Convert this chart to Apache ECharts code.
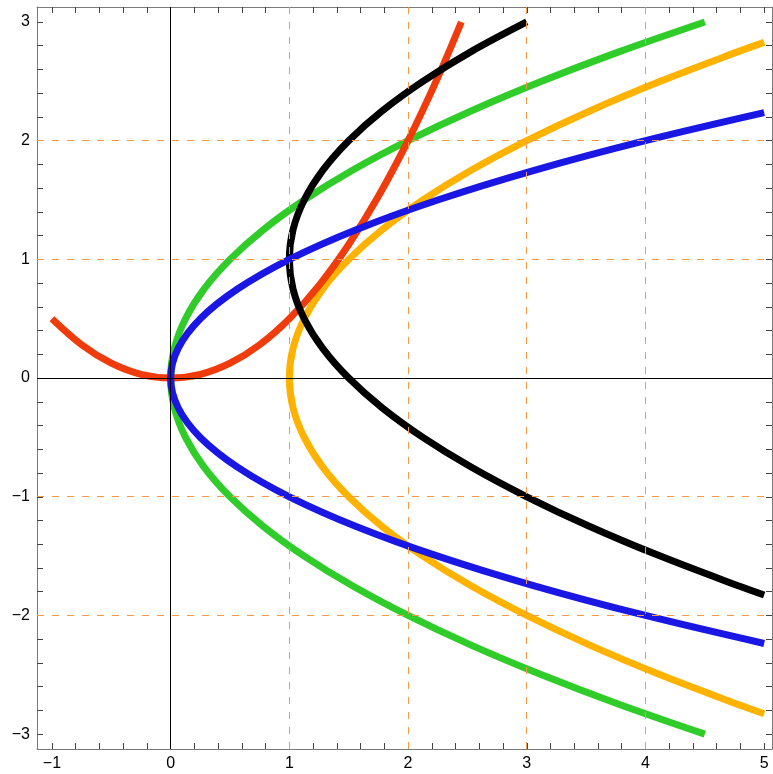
<!DOCTYPE html>
<html>
<head>
<meta charset="utf-8">
<script src="https://cdn.jsdelivr.net/npm/echarts@6/dist/echarts.min.js"></script>
<style>
html,body{margin:0;padding:0;background:#fff;}
#chart{width:773px;height:774px;}
</style>
</head>
<body>
<div id="chart"></div>
<script>
// ---- data ----
// green: sideways parabola through origin
const greenPts = [[4.5,-3],[3.781,-2.75],[3.125,-2.5],[2.531,-2.25],[2,-2],[1.531,-1.75],[1.125,-1.5],[0.781,-1.25],[0.5,-1],[0.281,-0.75],[0.125,-0.5],[0.031,-0.25],[0,0],[0.031,0.25],[0.125,0.5],[0.281,0.75],[0.5,1],[0.781,1.25],[1.125,1.5],[1.531,1.75],[2,2],[2.531,2.25],[3.125,2.5],[3.781,2.75],[4.5,3]];
// blue: narrower sideways parabola through origin
const bluePts = [[5,-2.236],[4,-2],[3.063,-1.75],[2.25,-1.5],[1.563,-1.25],[1,-1],[0.563,-0.75],[0.25,-0.5],[0.063,-0.25],[0,0],[0.063,0.25],[0.25,0.5],[0.563,0.75],[1,1],[1.563,1.25],[2.25,1.5],[3.063,1.75],[4,2],[5,2.236]];
// orange: sideways parabola with vertex (1,0)
const orangePts = [[5,-2.828],[4.781,-2.75],[4.125,-2.5],[3.531,-2.25],[3,-2],[2.531,-1.75],[2.125,-1.5],[1.781,-1.25],[1.5,-1],[1.281,-0.75],[1.125,-0.5],[1.031,-0.25],[1,0],[1.031,0.25],[1.125,0.5],[1.281,0.75],[1.5,1],[1.781,1.25],[2.125,1.5],[2.531,1.75],[3,2],[3.531,2.25],[4.125,2.5],[4.781,2.75],[5,2.828]];
// black: sideways parabola with vertex (1,1)
const blackPts = [[3,3],[2.531,2.75],[2.125,2.5],[1.781,2.25],[1.5,2],[1.281,1.75],[1.125,1.5],[1.031,1.25],[1,1],[1.031,0.75],[1.125,0.5],[1.281,0.25],[1.5,0],[1.781,-0.25],[2.125,-0.5],[2.531,-0.75],[3,-1],[3.531,-1.25],[4.125,-1.5],[4.781,-1.75],[5,-1.828]];
// red: upward parabola through origin
const redPts = [[-1,0.5],[-0.75,0.281],[-0.5,0.125],[-0.25,0.031],[0,0],[0.25,0.031],[0.5,0.125],[0.75,0.281],[1,0.5],[1.25,0.781],[1.5,1.125],[1.75,1.531],[2,2],[2.25,2.531],[2.449,3]];

// ---- ticks / grid ----
const xLabelRange = [-1, 5];   // labelled x ticks: -1 .. 5 step 1
const yLabelRange = [-3, 3];   // labelled y ticks: -3 .. 3 step 1
const xTicks = [-1,-0.8,-0.6,-0.4,-0.2,0,0.2,0.4,0.6,0.8,1,1.2,1.4,1.6,1.8,2,2.2,2.4,2.6,2.8,3,3.2,3.4,3.6,3.8,4,4.2,4.4,4.6,4.8,5];
const yTicks = [-3,-2.8,-2.6,-2.4,-2.2,-2,-1.8,-1.6,-1.4,-1.2,-1,-0.8,-0.6,-0.4,-0.2,0,0.2,0.4,0.6,0.8,1,1.2,1.4,1.6,1.8,2,2.2,2.4,2.6,2.8,3];
const xGrid = [0,1,2,3,4];
const yGrid = [-2,-1,0,1,2];

const X_MIN = -1.126, X_MAX = 5.066, Y_MIN = -3.125, Y_MAX = 3.126;
const fmt = v => (v < 0 ? '\u2212' + (-v) : String(v));
const frameColor = '#7a7a7a';
const tickColor = '#444';
const FONT = 'Liberation Sans';
const GRID_COLOR = '#f39a48';

// main plot area
const G = { left: 37, right: 1, top: 7, bottom: 25 };
const W = 773 - G.left - G.right, H = 774 - G.top - G.bottom;
const ppx = W / (X_MAX - X_MIN), ppy = H / (Y_MAX - Y_MIN);
// label grid: same scale, edges placed on the first / last labelled value
const GL = {
  left: G.left + (xLabelRange[0] - X_MIN) * ppx,
  right: G.right + (X_MAX - xLabelRange[1]) * ppx,
  top: G.top + (Y_MAX - yLabelRange[1]) * ppy,
  bottom: G.bottom + (yLabelRange[0] - Y_MIN) * ppy
};

function frameAxis(dim, pos) {
  const isX = dim === 'x';
  return {
    type: 'value', gridIndex: 0, position: pos,
    min: isX ? X_MIN : Y_MIN, max: isX ? X_MAX : Y_MAX,
    axisLine: { show: true, onZero: false, lineStyle: { color: frameColor, width: 1 } },
    axisTick: { show: true, inside: true, length: 6, customValues: isX ? xTicks : yTicks, lineStyle: { color: tickColor } },
    axisLabel: { show: false },
    splitLine: { show: false }
  };
}
function labelAxis(dim) {
  const isX = dim === 'x';
  const r = isX ? xLabelRange : yLabelRange;
  return {
    type: 'value', gridIndex: 1, position: isX ? 'bottom' : 'left',
    min: r[0], max: r[1], interval: 1,
    offset: isX ? (GL.bottom - G.bottom) : (GL.left - G.left),
    axisLine: { show: false, onZero: false },
    axisTick: { show: false },
    splitLine: { show: false },
    axisLabel: { show: true, formatter: fmt, fontSize: 16, fontFamily: FONT, color: '#000', margin: isX ? 7 : 7,
                 showMinLabel: true, showMaxLabel: true, hideOverlap: false }
  };
}

function curve(name, pts, color, z) {
  return {
    name, type: 'line', data: pts, showSymbol: false, symbol: 'none',
    smooth: 0.35, z: z, silent: true, animation: false,
    lineStyle: { color: color, width: 7, cap: 'butt', join: 'round' }
  };
}

// crisp full-span reference lines, positioned through the axis scale
function refLines(values, vertical, color, dash, z) {
  return {
    type: 'custom', z: z, silent: true, clip: false, animation: false,
    data: values.map(v => vertical ? [v, 0] : [0, v]),
    renderItem: function (params, api) {
      const cs = params.coordSys;
      const p = api.coord([api.value(0), api.value(1)]);
      if (vertical) {
        const x = Math.round(p[0] - 0.5) + 0.5;
        return { type: 'line', shape: { x1: x, y1: cs.y, x2: x, y2: cs.y + cs.height },
                 style: { stroke: color, lineWidth: 1, lineDash: dash } };
      }
      const y = Math.round(p[1] - 0.5) + 0.5;
      return { type: 'line', shape: { x1: cs.x, y1: y, x2: cs.x + cs.width, y2: y },
               style: { stroke: color, lineWidth: 1, lineDash: dash } };
    }
  };
}

const option = {
  animation: false,
  textStyle: { fontFamily: FONT },
  grid: [
    Object.assign({ containLabel: false }, G),
    Object.assign({ containLabel: false, show: false }, GL)
  ],
  xAxis: [frameAxis('x', 'bottom'), frameAxis('x', 'top'), labelAxis('x')],
  yAxis: [frameAxis('y', 'left'), frameAxis('y', 'right'), labelAxis('y')],
  series: [
    curve('green', greenPts, '#30cc2a', 2),
    curve('orange', orangePts, '#ffb300', 3),
    curve('red', redPts, '#f03c0c', 4),
    curve('black', blackPts, '#000000', 5),
    curve('blue', bluePts, '#1a16e4', 6),
    refLines(xGrid, true, GRID_COLOR, [7, 8], 10),
    refLines(yGrid, false, GRID_COLOR, [7, 8], 10),
    refLines([0], true, '#000', null, 11),
    refLines([0], false, '#000', null, 11)
  ]
};

const chart = echarts.init(document.getElementById('chart'), null, { renderer: 'canvas' });
chart.setOption(option);
</script>
</body>
</html>
